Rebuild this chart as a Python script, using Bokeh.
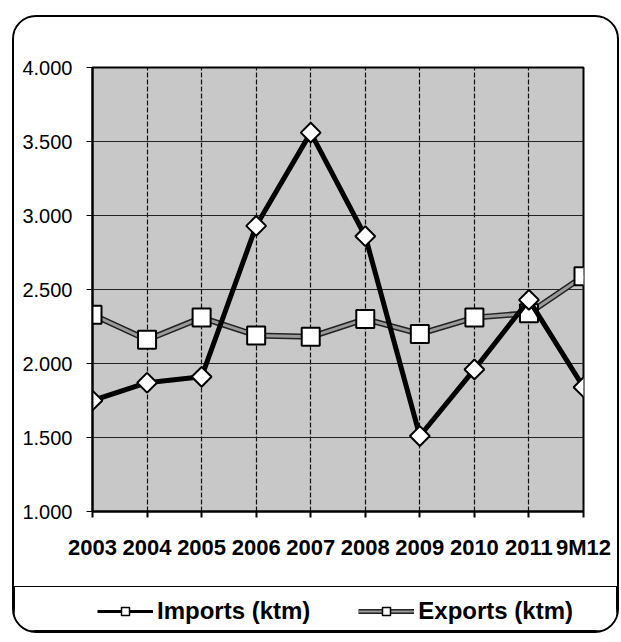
import math
from bokeh.plotting import figure
from bokeh.layouts import column
from bokeh.models import (FixedTicker, Range1d, Legend, LegendItem, ColumnDataSource)
from bokeh.embed import file_html
from bokeh.resources import INLINE

categories = ["2003", "2004", "2005", "2006", "2007", "2008", "2009", "2010", "2011", "9M12"]
imports_ktm = [1750, 1870, 1910, 2930, 3560, 2860, 1510, 1960, 2430, 1840]
exports_ktm = [2330, 2160, 2310, 2190, 2180, 2300, 2200, 2310, 2340, 2590]
y_ticks = [1000, 1500, 2000, 2500, 3000, 3500, 4000]
y_tick_labels = ["1.000", "1.500", "2.000", "2.500", "3.000", "3.500", "4.000"]

FONT = "Liberation Sans"

xs = list(range(len(categories)))
src = ColumnDataSource(dict(x=xs, imp=imports_ktm, exp=exports_ktm))

p = figure(frame_width=491, frame_height=444,
           min_border_left=78, min_border_right=32, min_border_top=50, min_border_bottom=75,
           output_backend="svg", toolbar_location=None,
           x_range=Range1d(0, len(categories) - 1), y_range=Range1d(y_ticks[0], y_ticks[-1]))

p.background_fill_color = "#c8c8c8"
p.border_fill_color = "white"
p.outline_line_color = "black"
p.outline_line_width = 2

# axes
p.xaxis.ticker = FixedTicker(ticks=xs)
p.xaxis.major_label_overrides = {i: c for i, c in zip(xs, categories)}
p.xaxis.major_label_text_font = FONT
p.xaxis.major_label_text_font_style = "bold"
p.xaxis.major_label_text_font_size = "22px"
p.xaxis.major_label_text_color = "black"
p.xaxis.major_tick_out = 6
p.xaxis.major_tick_in = 0
p.xaxis.minor_tick_line_color = None
p.xaxis.major_label_standoff = 17
p.xaxis.axis_line_width = 2
p.xaxis.axis_line_color = "black"
p.xaxis.major_tick_line_color = "black"
p.xaxis.major_tick_line_width = 2

p.yaxis.ticker = FixedTicker(ticks=y_ticks)
p.yaxis.major_label_overrides = {t: l for t, l in zip(y_ticks, y_tick_labels)}
p.yaxis.major_label_text_font = FONT
p.yaxis.major_label_text_font_size = "20px"
p.yaxis.major_label_text_color = "black"
p.yaxis.major_tick_out = 6
p.yaxis.major_tick_in = 0
p.yaxis.minor_tick_line_color = None
p.yaxis.major_label_standoff = 14
p.yaxis.axis_line_width = 2
p.yaxis.axis_line_color = "black"
p.yaxis.major_tick_line_color = "black"
p.yaxis.major_tick_line_width = 1

# grids
p.xgrid.ticker = FixedTicker(ticks=xs)
p.xgrid.grid_line_color = "#111111"
p.xgrid.grid_line_dash = "5 2"
p.xgrid.grid_line_width = 1.2
p.ygrid.ticker = FixedTicker(ticks=y_ticks)
p.ygrid.grid_line_color = "#222222"
p.ygrid.grid_line_width = 1.2

# exports series
p.line("x", "exp", source=src, line_color="#222222", line_width=6)
p.line("x", "exp", source=src, line_color="#9a9a9a", line_width=3)
p.scatter("x", "exp", source=src, marker="square", size=18,
          fill_color="white", line_color="black", line_width=2)

# imports series
p.line("x", "imp", source=src, line_color="black", line_width=5)
p.scatter("x", "imp", source=src, marker="square", angle=math.pi / 4, size=14,
          fill_color="white", line_color="black", line_width=2)

# ---- legend strip: a small figure whose CSS border forms the legend box ----
lg = figure(frame_width=491, frame_height=43,
            min_border_left=78, min_border_right=32, min_border_top=0, min_border_bottom=0,
            output_backend="svg", toolbar_location=None,
            x_range=Range1d(0, 1), y_range=Range1d(0, 1),
            x_axis_type=None, y_axis_type=None,
            styles={"border": "1.5px solid black"})
lg.xgrid.visible = False
lg.ygrid.visible = False
lg.background_fill_color = "white"
lg.border_fill_color = "white"
lg.outline_line_color = None

nan_src = ColumnDataSource(dict(x=[float("nan")], y=[float("nan")]))
li_line = lg.line("x", "y", source=nan_src, line_color="black", line_width=3)
li_mark = lg.scatter("x", "y", source=nan_src, marker="square", angle=math.pi / 4, size=9,
                     fill_color="white", line_color="black", line_width=1.5)
le_dark = lg.line("x", "y", source=nan_src, line_color="#222222", line_width=5)
le_gray = lg.line("x", "y", source=nan_src, line_color="#9a9a9a", line_width=2)
le_mark = lg.scatter("x", "y", source=nan_src, marker="square", size=12,
                     fill_color="white", line_color="black", line_width=1.5)

legend = Legend(items=[LegendItem(label="Imports (ktm)", renderers=[li_line, li_mark]),
                       LegendItem(label="Exports (ktm)", renderers=[le_dark, le_gray, le_mark])],
                orientation="horizontal", location=(0, 3), margin=0,
                padding=4, spacing=48, glyph_width=56, glyph_height=20,
                label_standoff=4,
                border_line_alpha=0, background_fill_alpha=0,
                label_text_font=FONT, label_text_font_style="bold",
                label_text_font_size="24px", label_text_color="black")
lg.add_layout(legend, "center")

layout = column(p, lg, spacing=0, margin=(15, 0, 0, 12),
                styles={"border": "2px solid black", "border-radius": "24px",
                        "overflow": "hidden"})

open("out.html", "w").write(file_html(layout, INLINE))
